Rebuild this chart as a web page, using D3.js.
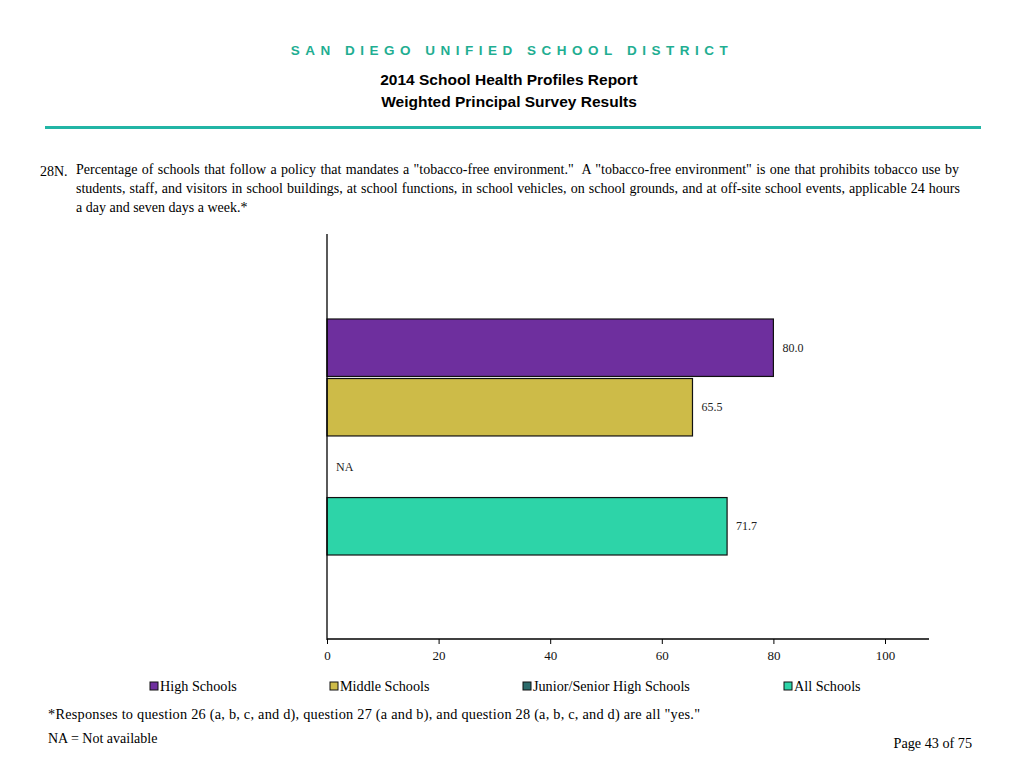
<!DOCTYPE html>
<html><head><meta charset="utf-8">
<script src="https://cdn.jsdelivr.net/npm/d3@7"></script>
<style>body{margin:0;background:#fff}svg{display:block}</style>
</head><body>
<script>
const categories = ["High Schools","Middle Schools","Junior/Senior High Schools","All Schools"];
const values = [80.0, 65.5, null, 71.7];
const colors = ["#6e2f9e","#cdbb48","#2c6b6b","#2dd4a8"];
const xTicks = [0,20,40,60,80,100];
const questionLines = [
 'Percentage of schools that follow a policy that mandates a "tobacco-free environment."\u00a0 A "tobacco-free environment" is one that prohibits tobacco use by',
 'students, staff, and visitors in school buildings, at school functions, in school vehicles, on school grounds, and at off-site school events, applicable 24 hours',
 'a day and seven days a week.*'
];

const W=1024,H=768;
const svg=d3.select("body").append("svg").attr("width",W).attr("height",H);
const serif="'Liberation Serif','Times New Roman',serif";
const sans="'Liberation Sans',Arial,sans-serif";

svg.append("text").attr("x",512).attr("y",55).attr("text-anchor","middle")
 .attr("font-family",sans).attr("font-weight","bold").attr("font-size",13.5)
 .attr("letter-spacing","5.5px").attr("fill","#1fae92").text("SAN DIEGO UNIFIED SCHOOL DISTRICT");
svg.append("text").attr("x",509).attr("y",84.5).attr("text-anchor","middle")
 .attr("font-family",sans).attr("font-weight","bold").attr("font-size",15.5).attr("fill","#000")
 .text("2014 School Health Profiles Report");
svg.append("text").attr("x",509).attr("y",106.5).attr("text-anchor","middle")
 .attr("font-family",sans).attr("font-weight","bold").attr("font-size",15.5).attr("fill","#000")
 .text("Weighted Principal Survey Results");
svg.append("rect").attr("x",45).attr("y",126).attr("width",936).attr("height",3).attr("fill","#22b5a5");

svg.append("text").attr("x",40).attr("y",176).attr("font-family",serif).attr("font-size",14).text("28N.");
const qLen=[882,884,null];
questionLines.forEach((l,i)=>{
 const t=svg.append("text").attr("x",76).attr("y",174+i*19)
 .attr("font-family",serif).attr("font-size",14).text(l);
 if(qLen[i]){
  const nat=t.node().getComputedTextLength();
  const spaces=(l.match(/ /g)||[]).length;
  t.attr("word-spacing",Math.max(0,(qLen[i]-nat)/spaces).toFixed(2)+"px");
 }
});

const x=d3.scaleLinear().domain([0,100]).range([327,885]);
const y=d3.scaleBand().domain(categories).range([319,555]).paddingInner(0.035).paddingOuter(0);
const g=svg.append("g");

g.selectAll("rect.bar").data(categories.map((c,i)=>({c,v:values[i],col:colors[i]})).filter(d=>d.v!=null))
 .enter().append("rect").attr("class","bar")
 .attr("x",x(0)).attr("y",d=>y(d.c)).attr("width",d=>x(d.v)-x(0)).attr("height",y.bandwidth())
 .attr("fill",d=>d.col).attr("stroke","#111").attr("stroke-width",1.2);

categories.forEach((c,i)=>{
 const v=values[i];
 g.append("text").attr("x",v==null?x(0)+9:x(v)+9).attr("y",y(c)+y.bandwidth()/2+4)
  .attr("font-family",serif).attr("font-size",12).attr("fill","#222")
  .text(v==null?"NA":v.toFixed(1));
});

// axes
svg.append("line").attr("x1",327).attr("x2",327).attr("y1",234).attr("y2",640).attr("stroke","#000").attr("stroke-width",1.3);
const xAxis=d3.axisBottom(x).tickValues(xTicks).tickSize(5).tickSizeOuter(0).tickFormat(d3.format("d"));
const ax=svg.append("g").attr("transform","translate(0,639)").call(xAxis);
ax.select(".domain").remove();
ax.append("line").attr("x1",327).attr("x2",929).attr("y1",0).attr("y2",0).attr("stroke","#000").attr("stroke-width",1.3);
ax.selectAll(".tick line").attr("stroke","#000");
ax.selectAll(".tick text").attr("font-family",serif).attr("font-size",13).attr("fill","#111").attr("dy","1.2em").attr("y",5);

// legend
const legX=[150,330,523,784];
categories.forEach((c,i)=>{
 svg.append("rect").attr("x",legX[i]).attr("y",682).attr("width",8).attr("height",8)
  .attr("fill",colors[i]).attr("stroke","#111").attr("stroke-width",1);
 svg.append("text").attr("x",legX[i]+10).attr("y",691).attr("font-family",serif).attr("font-size",14.2).text(c);
});

svg.append("text").attr("x",48).attr("y",719).attr("font-family",serif).attr("font-size",14.3)
 .attr("textLength",652).attr("lengthAdjust","spacing")
 .text('*Responses to question 26 (a, b, c, and d), question 27 (a and b), and question 28 (a, b, c, and d) are all "yes."');
svg.append("text").attr("x",48).attr("y",743).attr("font-family",serif).attr("font-size",14).text("NA = Not available");
svg.append("text").attr("x",972).attr("y",748).attr("text-anchor","end").attr("font-family",serif).attr("font-size",14.2).text("Page 43 of 75");
</script>
</body></html>
